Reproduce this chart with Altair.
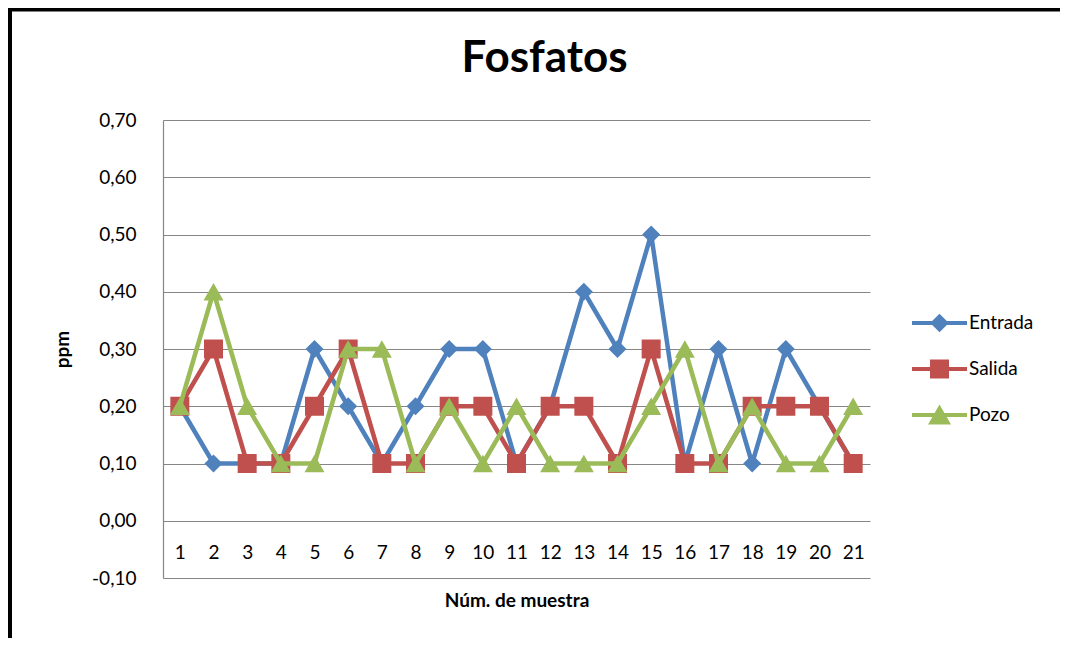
import altair as alt
import pandas as pd

muestras = list(range(1, 22))
entrada = [0.2, 0.1, 0.1, 0.1, 0.3, 0.2, 0.1, 0.2, 0.3, 0.3, 0.1, 0.2, 0.4, 0.3, 0.5, 0.1, 0.3, 0.1, 0.3, 0.2, 0.1]
salida = [0.2, 0.3, 0.1, 0.1, 0.2, 0.3, 0.1, 0.1, 0.2, 0.2, 0.1, 0.2, 0.2, 0.1, 0.3, 0.1, 0.1, 0.2, 0.2, 0.2, 0.1]
pozo = [0.2, 0.4, 0.2, 0.1, 0.1, 0.3, 0.3, 0.1, 0.2, 0.1, 0.2, 0.1, 0.1, 0.1, 0.2, 0.3, 0.1, 0.2, 0.1, 0.1, 0.2]
series = ["Entrada", "Salida", "Pozo"]
colors = ["#4F81BD", "#C0504D", "#9BBB59"]
y_ticks = [-0.1, 0.0, 0.1, 0.2, 0.3, 0.4, 0.5, 0.6, 0.7]

rows = []
for name, vals in zip(series, [entrada, salida, pozo]):
    for m, v in zip(muestras, vals):
        rows.append({"muestra": m, "ppm": v, "serie": name})
df = pd.DataFrame(rows)

FONT = "Lato"
W, H = 707, 458

x_enc = alt.X("muestra:Q", scale=alt.Scale(domain=[0.5, 21.5], nice=False, zero=False),
              axis=alt.Axis(values=muestras, grid=False, domain=False, ticks=False,
                            labelPadding=-26, labelBaseline="middle", labelFontSize=19,
                            labelColor="black", labelFont=FONT, format="d",
                            title="Núm. de muestra", titleFont=FONT, titleFontSize=19,
                            titleFontWeight="bold", titleColor="black",
                            titleX=W / 2, titleY=22, titleBaseline="middle", titleAlign="center"))
y_enc = alt.Y("ppm:Q", scale=alt.Scale(domain=[-0.1, 0.7], nice=False, zero=False),
              axis=alt.Axis(values=y_ticks, grid=True, gridColor="#868686", gridWidth=1.2,
                            domainColor="#868686", domainWidth=1.2, ticks=False,
                            labelPadding=27, labelFontSize=19, labelFont=FONT, labelColor="black",
                            labelExpr="replace(replace(format(datum.value, '.2f'), '.', ','), '\u2212', '-')",
                            title="ppm", titleFont=FONT, titleFontSize=19, titleFontWeight="bold",
                            titleColor="black", titleX=-101, titleY=H / 2, titleAngle=270,
                            titleBaseline="middle", titleAlign="center"))

shapes = ["diamond", "square", "triangle-up"]
sizes = [324, 361, 400]

border = alt.Chart(alt.Data(values=[{}])).mark_rect(
    fillOpacity=0, stroke="black", strokeWidth=5
).encode(x=alt.value(-153.5), x2=alt.value(W + 260), y=alt.value(-111), y2=alt.value(H + 80))

layers = [border]
for name, col, shp, sz in zip(series, colors, shapes, sizes):
    base = alt.Chart(df).transform_filter(alt.datum.serie == name)
    layers.append(base.mark_line(color=col, strokeWidth=4.5, strokeJoin="round").encode(x=x_enc, y=y_enc))
    layers.append(base.mark_point(filled=True, shape=shp, size=sz, color=col, opacity=1, strokeWidth=0)
                  .encode(x=x_enc, y=y_enc))

# legend symbols: line with marker, unit coords scaled by 12 px
legend_paths = [
    "M-3.583,0H1M-1.83,0L-1.29,-0.54L-0.75,0L-1.29,0.54Z",
    "M-3.583,0H1M-1.915,-0.625H-0.665V0.625H-1.915Z",
    "M-3.583,0H1M-1.96,0.62L-0.62,0.62L-1.29,-0.55Z",
]
leg = alt.Legend(title=None, orient="none", legendX=778, legendY=189, labelFont=FONT,
                 labelFontSize=19, labelColor="black", labelOffset=0, rowPadding=15,
                 symbolSize=576, symbolStrokeWidth=4, padding=0)
legend_layer = alt.Chart(df).transform_filter("datum.ppm < -5").mark_point(
    filled=True, opacity=1, strokeWidth=4
).encode(
    x=x_enc, y=y_enc,
    fill=alt.Fill("serie:N", scale=alt.Scale(domain=series, range=colors), legend=leg),
    stroke=alt.Stroke("serie:N", scale=alt.Scale(domain=series, range=colors), legend=leg),
    shape=alt.Shape("serie:N", scale=alt.Scale(domain=series, range=legend_paths), legend=leg),
)
layers.append(legend_layer)

chart = alt.layer(*layers).properties(
    width=W, height=H,
    autosize=alt.AutoSizeParams(type="none"),
    padding={"left": 155, "top": 112, "right": 190, "bottom": 60},
    title=alt.TitleParams(text="Fosfatos", font=FONT, fontSize=44, fontWeight="bold",
                          color="black", anchor="middle", dx=28, baseline="alphabetic", offset=-109),
).configure(font=FONT, background="white").configure_view(strokeWidth=0, stroke=None)

chart.save("out.html", embed_options={"renderer": "svg", "actions": False})
